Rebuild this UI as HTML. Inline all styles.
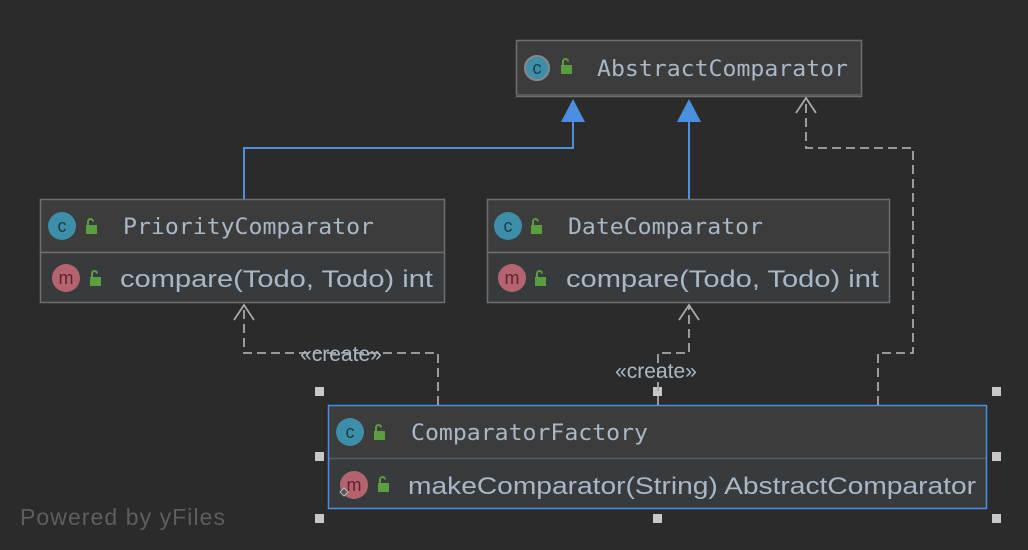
<!DOCTYPE html>
<html><head><meta charset="utf-8"><style>
html,body{margin:0;padding:0;background:#2b2b2b;}
svg{display:block}
.mono{font-family:"DejaVu Sans Mono","Liberation Mono",monospace;font-size:22px;fill:#a9b7c6}
.sans{font-family:"Liberation Sans",sans-serif;font-size:24px;fill:#a9b7c6}
.ic{font-family:"Liberation Sans",sans-serif;font-size:18px;text-anchor:middle}
</style></head><body>
<svg width="1028" height="550" viewBox="0 0 1028 550" xmlns="http://www.w3.org/2000/svg">
<defs>
<g id="lock"><rect x="0" y="6" width="11" height="9" fill="#5a9e3f"/><path d="M2 7 V2.5 a2.5 2.5 0 0 1 5 0" stroke="#5a9e3f" stroke-width="2" fill="none"/></g>
</defs>
<rect width="1028" height="550" fill="#2b2b2b"/>

<rect x="516.5" y="40.5" width="345" height="56" fill="#3c3c3c" stroke="#6e6e6e" stroke-width="1.5"/>
<line x1="516" y1="95" x2="862" y2="95" stroke="#5a5a5a" stroke-width="2"/>
<circle cx="537" cy="68" r="12" fill="#3d8ea8" stroke="#888" stroke-width="2"/>
<text x="537" y="74" class="ic" fill="#1e3a48">c</text>
<use href="#lock" x="561" y="59"/>
<text x="597" y="76" class="mono" textLength="251" lengthAdjust="spacingAndGlyphs">AbstractComparator</text>

<rect x="40.5" y="199.5" width="404" height="53" fill="#3c3c3c" stroke="#6e6e6e" stroke-width="1.5"/>
<rect x="40.5" y="252.5" width="404" height="50" fill="#383b3e" stroke="#6e6e6e" stroke-width="1.5"/>
<circle cx="62" cy="226" r="14" fill="#3d8ea8"/>
<text x="62" y="232" class="ic" fill="#1e3a48">c</text>
<use href="#lock" x="86" y="219"/>
<text x="123" y="234" class="mono" textLength="251" lengthAdjust="spacingAndGlyphs">PriorityComparator</text>
<circle cx="66" cy="278" r="14" fill="#b5646f"/>
<text x="66" y="284" class="ic" fill="#5a2530">m</text>
<use href="#lock" x="90" y="271"/>
<text x="120" y="287" class="sans" textLength="313" lengthAdjust="spacingAndGlyphs">compare(Todo, Todo) int</text>

<rect x="487.5" y="199.5" width="402" height="53" fill="#3c3c3c" stroke="#6e6e6e" stroke-width="1.5"/>
<rect x="487.5" y="252.5" width="402" height="50" fill="#383b3e" stroke="#6e6e6e" stroke-width="1.5"/>
<circle cx="508" cy="226" r="14" fill="#3d8ea8"/>
<text x="508" y="232" class="ic" fill="#1e3a48">c</text>
<use href="#lock" x="531" y="219"/>
<text x="568" y="234" class="mono" textLength="195" lengthAdjust="spacingAndGlyphs">DateComparator</text>
<circle cx="512" cy="278" r="14" fill="#b5646f"/>
<text x="512" y="284" class="ic" fill="#5a2530">m</text>
<use href="#lock" x="535" y="271"/>
<text x="566" y="287" class="sans" textLength="313" lengthAdjust="spacingAndGlyphs">compare(Todo, Todo) int</text>

<rect x="328.5" y="405.5" width="658" height="53" fill="#3c3c3c"/>
<rect x="328.5" y="458.5" width="658" height="50" fill="#383b3e"/>
<line x1="329" y1="458.5" x2="986" y2="458.5" stroke="#5a5a5a" stroke-width="1.5"/>
<rect x="328.5" y="405.5" width="658" height="103" fill="none" stroke="#4a8fe0" stroke-width="1.5"/>
<circle cx="350" cy="432" r="14" fill="#3d8ea8"/>
<text x="350" y="438" class="ic" fill="#1e3a48">c</text>
<use href="#lock" x="374" y="425"/>
<text x="411" y="440" class="mono" textLength="237" lengthAdjust="spacingAndGlyphs">ComparatorFactory</text>
<circle cx="354" cy="485" r="14" fill="#b5646f"/>
<text x="354" y="491" class="ic" fill="#5a2530">m</text>
<path d="M344 488 l4 4 -4 4 -4 -4z" fill="#555" stroke="#bbb" stroke-width="1"/>
<use href="#lock" x="378" y="477"/>
<text x="408" y="494" class="sans" textLength="568" lengthAdjust="spacingAndGlyphs">makeComparator(String) AbstractComparator</text>

<g fill="#c8c8c8">
<rect x="315" y="387" width="9" height="9"/><rect x="653" y="387" width="9" height="9"/><rect x="992" y="387" width="9" height="9"/>
<rect x="315" y="452" width="9" height="9"/><rect x="992" y="452" width="9" height="9"/>
<rect x="315" y="514" width="9" height="9"/><rect x="653" y="514" width="9" height="9"/><rect x="992" y="514" width="9" height="9"/>
</g>

<g stroke="#4a8fe0" stroke-width="2" fill="none">
<path d="M244 199 V148 H573 V120"/>
<path d="M689 199 V120"/>
</g>
<g fill="#4a8fe0">
<path d="M573 99 L561 122 H585Z"/>
<path d="M689 99 L677 122 H701Z"/>
</g>

<g stroke="#a8a8a8" stroke-width="1.8" fill="none" stroke-dasharray="9,5">
<path d="M438 405 V353 H244 V306"/>
<path d="M658 405 V353 H689 V306"/>
<path d="M878 405 V353 H913 V148 H806 V98"/>
</g>
<g stroke="#a8a8a8" stroke-width="1.8" fill="none">
<path d="M234 320 L244 305 L254 320"/>
<path d="M679 320 L689 305 L699 320"/>
<path d="M796 113 L806 98 L816 113"/>
</g>
<text x="341" y="361" class="sans" style="font-size:21px" text-anchor="middle">«create»</text>
<text x="656" y="378" class="sans" style="font-size:21px" text-anchor="middle">«create»</text>

<text x="20" y="525" textLength="205" style="font-family:'Liberation Sans',sans-serif;font-size:23px;fill:#5e5e5e">Powered by yFiles</text>
</svg>
</body></html>
